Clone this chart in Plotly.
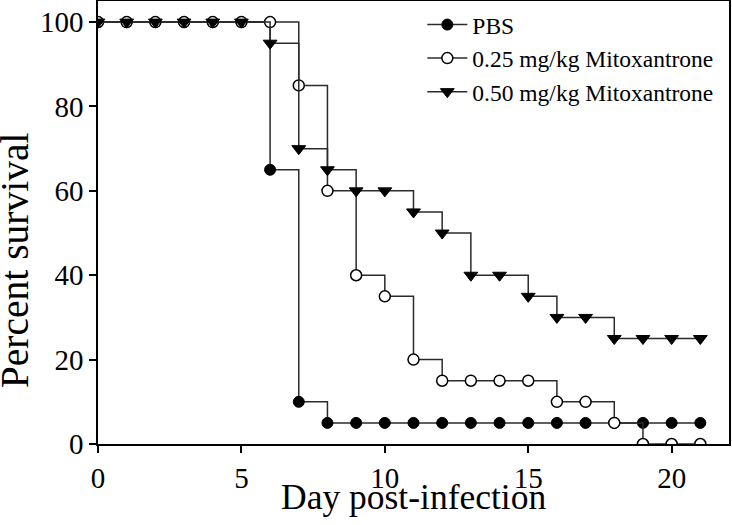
import plotly.graph_objects as go

days = list(range(0, 22))
pbs = [100, 100, 100, 100, 100, 100, 65, 10, 5, 5, 5, 5, 5, 5, 5, 5, 5, 5, 5, 5, 5, 5]
mito_025 = [100, 100, 100, 100, 100, 100, 100, 85, 60, 40, 35, 20, 15, 15, 15, 15, 10, 10, 5, 0, 0, 0]
mito_050 = [100, 100, 100, 100, 100, 100, 95, 70, 65, 60, 60, 55, 50, 40, 40, 35, 30, 30, 25, 25, 25, 25]
names = ["PBS", "0.25 mg/kg Mitoxantrone", "0.50 mg/kg Mitoxantrone"]
x_ticks = [0, 5, 10, 15, 20]
y_ticks = [0, 20, 40, 60, 80, 100]

FONT = "Liberation Serif"
LINE = dict(color="#2b2b2b", width=1.5, shape="hv")

fig = go.Figure()
fig.add_trace(go.Scatter(x=days, y=pbs, name=names[0], mode="lines+markers", line=LINE,
                         marker=dict(symbol="circle", size=11, color="black",
                                     line=dict(color="black", width=1))))
fig.add_trace(go.Scatter(x=days, y=mito_025, name=names[1], mode="lines+markers", line=LINE,
                         marker=dict(symbol="circle", size=11, color="white",
                                     line=dict(color="black", width=1.5))))
fig.add_trace(go.Scatter(x=days, y=mito_050, name=names[2], mode="lines+markers", line=LINE,
                         marker=dict(symbol="triangle-down", size=12, color="black",
                                     line=dict(color="black", width=1))))

axis_common = dict(ticks="outside", ticklen=7, tickwidth=1.5, tickcolor="black",
                   showline=True, linecolor="black", linewidth=1.5, mirror=True,
                   showgrid=False, zeroline=False, automargin=False,
                   tickfont=dict(family=FONT, size=29, color="black"))

fig.update_layout(
    width=732, height=525,
    margin=dict(l=98, r=3, t=1, b=81),
    paper_bgcolor="white", plot_bgcolor="white",
    font=dict(family=FONT, color="black", size=28),
    showlegend=True,
    legend=dict(x=0.514, y=0.996, xanchor="left", yanchor="top",
                font=dict(family=FONT, size=23.5, color="black"),
                bgcolor="rgba(0,0,0,0)", borderwidth=0, tracegroupgap=0,
                itemwidth=40),
    xaxis=dict(range=[0, 22], tickvals=x_ticks, **axis_common),
    yaxis=dict(range=[0, 105], tickvals=y_ticks, **axis_common),
    annotations=[
        dict(text="Day post-infection", xref="paper", yref="paper", x=0.5, y=-0.07,
             xanchor="center", yanchor="top", showarrow=False,
             font=dict(family=FONT, size=35.5, color="black")),
        dict(text="Percent survival", xref="paper", yref="paper", x=-0.1315, y=0.415,
             xanchor="center", yanchor="middle", textangle=-90, showarrow=False,
             font=dict(family=FONT, size=39.5, color="black")),
    ],
)

fig.write_html("out.html", config={"displayModeBar": False},
               post_script="document.body.style.margin='0';")
